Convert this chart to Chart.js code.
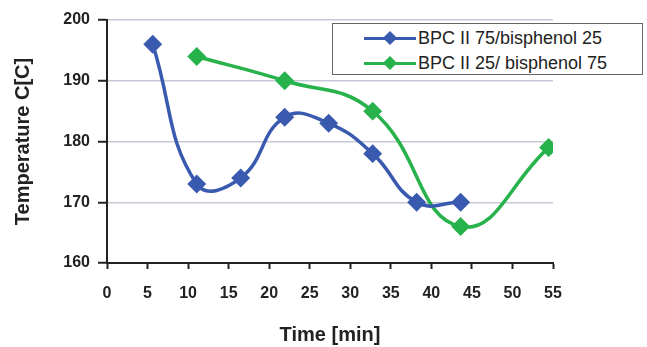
<!DOCTYPE html>
<html>
<head>
<meta charset="utf-8">
<script src="https://cdn.jsdelivr.net/npm/chart.js@4/dist/chart.umd.min.js"></script>
<style>
  html, body { margin: 0; padding: 0; background: #fff; }
  #wrap { position: relative; width: 647px; height: 347px; }
  #legend {
    position: absolute; left: 332px; top: 23px; width: 311px; height: 52px;
    box-sizing: border-box; border: 1px solid #666; background: #fff;
    font-family: "Liberation Sans", Arial, sans-serif; font-size: 18px; color: #222;
  }
  .row { position: absolute; left: 0; height: 20px; }
  .row .ln { position: absolute; left: 31px; top: 9px; width: 52px; height: 3px; }
  .row .dm { position: absolute; left: 52px; top: 5px; width: 10px; height: 10px; transform: rotate(45deg); }
  .row .tx { position: absolute; left: 85px; top: -1px; white-space: nowrap; line-height: 22px; }
</style>
</head>
<body>
<div id="wrap">
  <canvas id="chart" width="647" height="347"></canvas>
  <div id="legend"></div>
</div>
<script>
// Data
const seriesNames = ['BPC II 75/bisphenol 25', 'BPC II 25/ bisphenol 75'];
const seriesColors = ['#3a5ab0', '#27b24b'];
const blueTimes = [5, 10, 15, 20, 25, 30, 35, 40];
const blueTemps = [196, 173, 174, 184, 183, 178, 170, 170];
const greenTimes = [10, 20, 30, 40, 50];
const greenTemps = [194, 190, 185, 166, 179];
const xTicks = [0, 5, 10, 15, 20, 25, 30, 35, 40, 45, 50, 55];
const yTicks = [160, 170, 180, 190, 200];

const toPoints = (xs, ys) => xs.map((x, i) => ({ x: x, y: ys[i] }));

const tickFont = { family: 'Liberation Sans, Arial, sans-serif', size: 16, weight: 'bold' };
const titleFont = { family: 'Liberation Sans, Arial, sans-serif', size: 20, weight: 'bold' };

const ctx = document.getElementById('chart').getContext('2d');
const chart = new Chart(ctx, {
    type: 'line',
    data: {
        datasets: [
            {
                label: seriesNames[0],
                data: toPoints(blueTimes, blueTemps),
                borderColor: seriesColors[0],
                backgroundColor: seriesColors[0],
                borderWidth: 3.5,
                pointStyle: 'rectRot',
                pointRadius: 7,
                tension: 0.45,
                xAxisID: 'x',
                yAxisID: 'y'
            },
            {
                label: seriesNames[1],
                data: toPoints(greenTimes, greenTemps),
                borderColor: seriesColors[1],
                backgroundColor: seriesColors[1],
                borderWidth: 3.5,
                pointStyle: 'rectRot',
                pointRadius: 7,
                tension: 0.45,
                xAxisID: 'x',
                yAxisID: 'y'
            }
        ]
    },
    options: {
        responsive: false,
        animation: false,
        events: [],
        layout: { padding: { left: 0, right: 94, top: 20, bottom: 0 } },
        scales: {
            // points sit on a slightly wider spacing than the printed ticks
            x: { type: 'linear', min: -0.2, max: 50.5, display: false },
            xt: {
                type: 'linear', position: 'bottom', min: 0, max: 55,
                afterBuildTicks: (s) => { s.ticks = xTicks.map(v => ({ value: v })); },
                afterFit: (s) => { s.height = 84; },
                grid: { drawOnChartArea: false, tickLength: 6, tickColor: '#222', tickWidth: 2 },
                border: { color: '#222', width: 2 },
                ticks: { font: tickFont, color: '#222', padding: 15, maxRotation: 0 },
                title: { display: true, text: 'Time [min]', font: titleFont, color: '#222', padding: { top: 0, bottom: 0 } }
            },
            y: {
                type: 'linear', min: 160, max: 200,
                afterBuildTicks: (s) => { s.ticks = yTicks.map(v => ({ value: v })); },
                afterFit: (s) => { s.width = 107; },
                grid: { color: '#c6c9d6', lineWidth: 1.5, tickLength: 9, tickColor: '#222', tickWidth: 2 },
                border: { color: '#222', width: 2 },
                ticks: { font: tickFont, color: '#222', padding: 8 },
                title: { display: true, text: 'Temperature C[C]', font: titleFont, color: '#222', padding: { top: 11, bottom: 0 } }
            }
        },
        plugins: {
            legend: { display: false },
            tooltip: { enabled: false }
        }
    }
});

// Legend (line with diamond marker, as in the original)
const legend = document.getElementById('legend');
seriesNames.forEach((name, i) => {
    const row = document.createElement('div');
    row.className = 'row';
    row.style.top = (4 + i * 25) + 'px';
    row.innerHTML = '<div class="ln" style="background:' + seriesColors[i] + '"></div>' +
        '<div class="dm" style="background:' + seriesColors[i] + '"></div>' +
        '<div class="tx">' + name + '</div>';
    legend.appendChild(row);
});
</script>
</body>
</html>
